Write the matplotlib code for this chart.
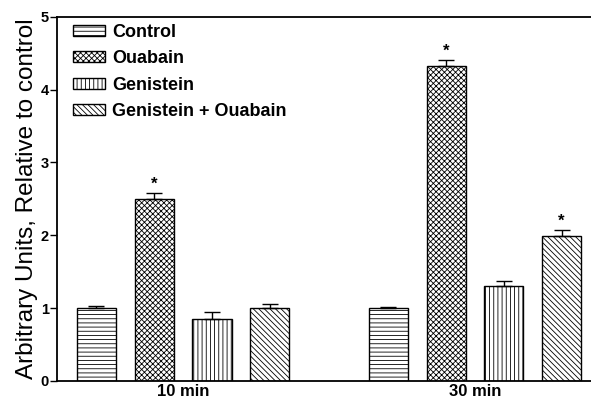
import numpy as np
import matplotlib
matplotlib.use("Agg")
import matplotlib.pyplot as plt

groups = ['10 min', '30 min']
treatments = ['Control', 'Ouabain', 'Genistein', 'Genistein + Ouabain']
means = [[1.00, 2.50, 0.85, 1.00],
         [1.00, 4.32, 1.30, 1.99]]
errs = [[0.03, 0.08, 0.09, 0.06],
        [0.02, 0.09, 0.07, 0.08]]
signif = [[False, True, False, False],
          [False, True, False, True]]
hatches = ['-' * 4, 'x' * 6, '|' * 4, '\\' * 6]

plt.rcParams['font.family'] = ['Liberation Sans', 'DejaVu Sans']
plt.rcParams['hatch.linewidth'] = 0.6

fig = plt.figure(figsize=(5.91, 4.01), dpi=100)
ax = fig.add_axes([0.0964, 0.05, 0.9036, 0.908])

group_x = [0, 5.06]
width = 0.68
for g, gx in enumerate(group_x):
    for t in range(4):
        x = gx + t
        ax.bar(x, means[g][t], width=width, color='white', edgecolor='black',
               hatch=hatches[t], linewidth=1, label=treatments[t] if g == 0 else None)
        ax.errorbar(x, means[g][t], yerr=[[0], [errs[g][t]]], fmt='none',
                    ecolor='black', elinewidth=1, capsize=6, capthick=1)
        if signif[g][t]:
            ax.text(x, means[g][t] + errs[g][t] + 0.02, '*', ha='center', va='bottom',
                    fontsize=12, fontweight='bold')

ax.set_xlim(-0.685, 8.57)
ax.set_ylim(0, 5)
ax.set_yticks([0, 1, 2, 3, 4, 5])
ax.set_xticks([gx + 1.5 for gx in group_x])
ax.set_xticklabels(groups)
ax.tick_params(axis='x', length=0, pad=2, labelsize=12)
ax.tick_params(axis='y', length=5, width=1, pad=1, labelsize=10.5)
for lab in ax.get_xticklabels() + ax.get_yticklabels():
    lab.set_fontweight('bold')
ax.spines['right'].set_visible(False)
for s in ['left', 'bottom', 'top']:
    ax.spines[s].set_linewidth(1.3)

ax.set_ylabel('Arbitrary Units, Relative to control', fontsize=17.5, labelpad=2)

leg = ax.legend(loc='upper left', bbox_to_anchor=(0.011, 1.008), frameon=False,
                handlelength=1.8, handleheight=0.55, labelspacing=0.52,
                handletextpad=0.4, borderaxespad=0.15,
                prop={'weight': 'bold', 'size': 13})

fig.savefig('out.png', dpi=100)
